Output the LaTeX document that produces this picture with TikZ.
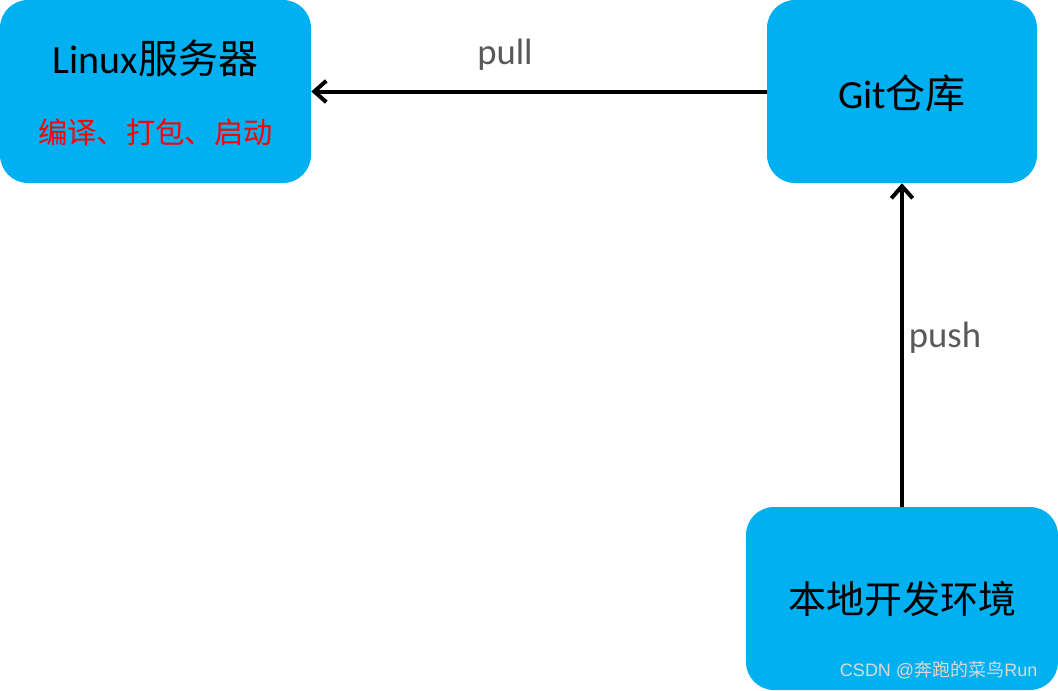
\documentclass[tikz,border=0pt]{standalone}
\usepackage{fontspec}
\setmainfont{Carlito}
\newfontfamily\cjk{Noto Sans CJK SC}
\newfontfamily\wmfont{Liberation Sans}
\usetikzlibrary{arrows.meta}
\definecolor{boxblue}{HTML}{00B0F0}
\definecolor{labelgray}{HTML}{595959}
\tikzset{
  box/.style={fill=boxblue,rounded corners=21pt,minimum height=137.25pt,inner sep=0pt},
  flow/.style={line width=3pt,-{Straight Barb[length=9pt,width=16pt,line width=3pt]}}
}

\begin{document}
\begin{tikzpicture}[x=0.75pt,y=-0.75pt]
\useasboundingbox (0,0) rectangle (1058,690);
\node[box,minimum width=233.25pt] (linux) at (155.5,91.5) {};
\node[box,minimum width=202.5pt] (git) at (902,91.5) {};
\node[box,minimum width=234pt] (local) at (902,598.5) {};
\node[font=\fontsize{30}{36}\selectfont] (linuxtxt) at (155.5,58) {Linux{\cjk 服务器}};
\node[font=\fontsize{22}{26}\selectfont\cjk,text=red] (tasks) at (155.5,132) {编译、打包、启动};
\node[font=\fontsize{30}{36}\selectfont] (gittxt) at (902,93) {Git{\cjk 仓库}};
\node[font=\fontsize{28.5}{34}\selectfont\cjk] (localtxt) at (902,599) {本地开发环境};
\draw[flow] (git.west) -- (linux.east);
\draw[flow] (local.north) -- (git.south);
\node[font=\fontsize{27.5}{33}\selectfont,text=labelgray] (pull) at (505,55) {pull};
\node[font=\fontsize{27.5}{33}\selectfont,text=labelgray] (push) at (945,338) {push};
\node[font=\fontsize{13.5}{16}\selectfont,text=black!15,anchor=east] (mark) at (1042,670) {\wmfont CSDN @{\cjk 奔跑的菜鸟}Run};
\end{tikzpicture}
\end{document}
